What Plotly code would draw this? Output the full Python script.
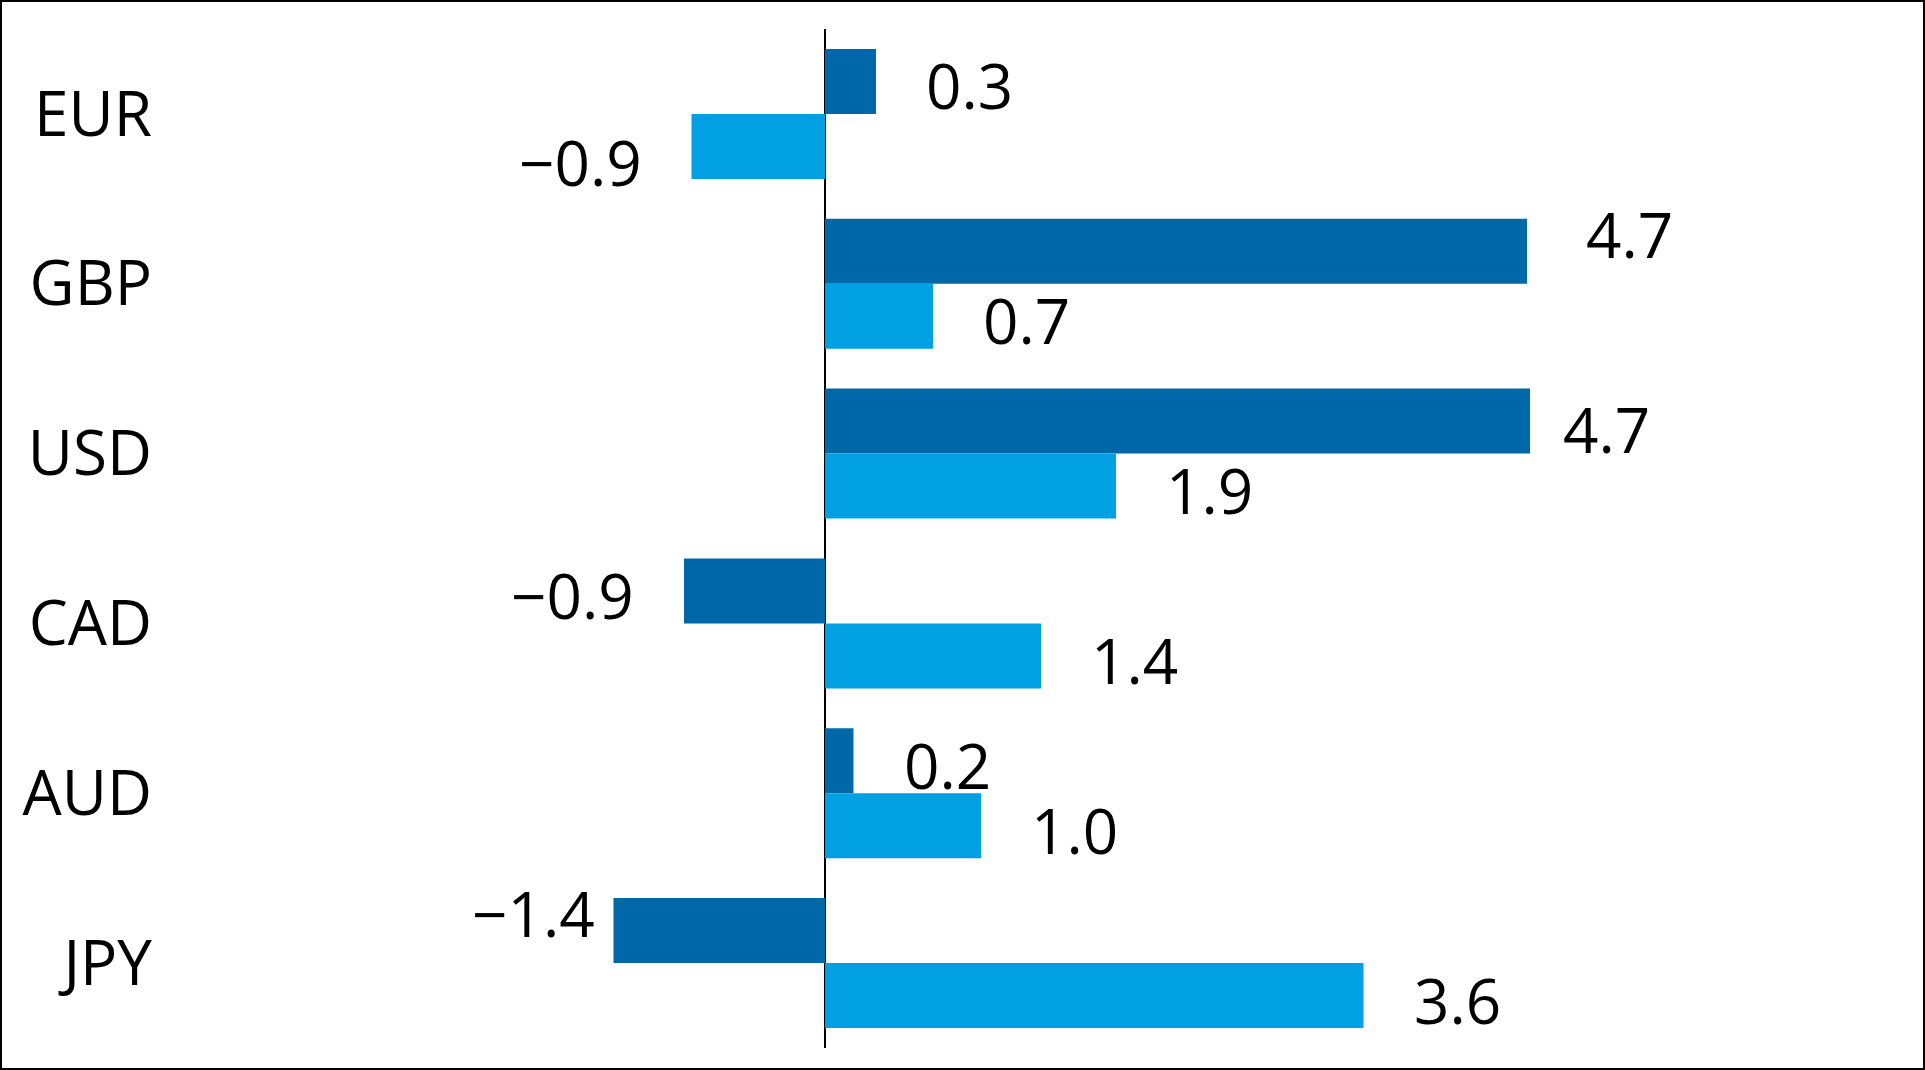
import plotly.graph_objects as go

# currencies, top to bottom
currencies = ["EUR", "GBP", "USD", "CAD", "AUD", "JPY"]

# dark series (first bar of each pair) and light series (second bar)
dark_values = [0.34, 4.68, 4.70, -0.94, 0.19, -1.41]
light_values = [-0.89, 0.72, 1.94, 1.44, 1.04, 3.59]

DARK = "#0068A8"
LIGHT = "#00A0E3"
FONT = "Open Sans"
FSIZE = 62

# chart geometry (px)
W, H = 1925, 1070
ML, MR, MT, MB = 167, 20, 29, 22
PX_PER_UNIT = 150
ZERO_X = 825
BAR_OFFSET = 32.5  # half of a bar height, for label placement

# manual label nudges (dx, dy) in px, keyed by (series, currency)
label_nudge = {
    ("light", "EUR"): (0, -12),
    ("dark", "GBP"): (9, 21),
    ("dark", "USD"): (-17, -4),
    ("dark", "JPY"): (-31, 22),
}


def fmt(v):
    return f"{v:.1f}".replace("-", "\u2212")


plot_w = W - ML - MR
plot_h = H - MT - MB
x_min = -(ZERO_X - ML) / PX_PER_UNIT
x_max = (plot_w - (ZERO_X - ML)) / PX_PER_UNIT

fig = go.Figure()
fig.add_trace(go.Bar(y=currencies, x=dark_values, orientation="h",
                     marker=dict(color=DARK, line=dict(width=0)), name="dark"))
fig.add_trace(go.Bar(y=currencies, x=light_values, orientation="h",
                     marker=dict(color=LIGHT, line=dict(width=0)), name="light"))

annotations = []
for series, vals, yoff in (("dark", dark_values, BAR_OFFSET), ("light", light_values, -BAR_OFFSET)):
    for cur, v in zip(currencies, vals):
        dx, dy = label_nudge.get((series, cur), (0, 0))
        gap = 48 + dx
        annotations.append(dict(
            x=v, y=cur, xref="x", yref="y",
            text=fmt(v), showarrow=False,
            xanchor="left" if v >= 0 else "right",
            xshift=gap if v >= 0 else -gap,
            yshift=yoff - 4 + dy,
            font=dict(family=FONT, size=FSIZE, color="#000000"),
        ))

fig.update_layout(
    width=W, height=H,
    margin=dict(l=ML, r=MR, t=MT, b=MB),
    paper_bgcolor="white", plot_bgcolor="white",
    barmode="group", bargap=0.235, bargroupgap=0,
    showlegend=False,
    font=dict(family=FONT, size=FSIZE, color="#000000"),
    annotations=annotations,
    xaxis=dict(range=[x_min, x_max], showgrid=False, showticklabels=False,
               zeroline=True, zerolinecolor="#000000", zerolinewidth=1.5),
    yaxis=dict(range=[len(currencies) - 0.5, -0.5], showgrid=False, zeroline=False,
               ticks="", ticklabelstandoff=14,
               tickfont=dict(family=FONT, size=FSIZE, color="#000000")),
    shapes=[dict(type="rect", xref="paper", yref="paper",
                 x0=-(ML - 1) / plot_w, x1=1 + (MR - 1) / plot_w,
                 y0=-(MB - 1) / plot_h, y1=1 + (MT - 1) / plot_h,
                 line=dict(color="#000000", width=2))],
)

fig.write_html("out.html", config={"displayModeBar": False},
               post_script="document.body.style.margin='0';")
